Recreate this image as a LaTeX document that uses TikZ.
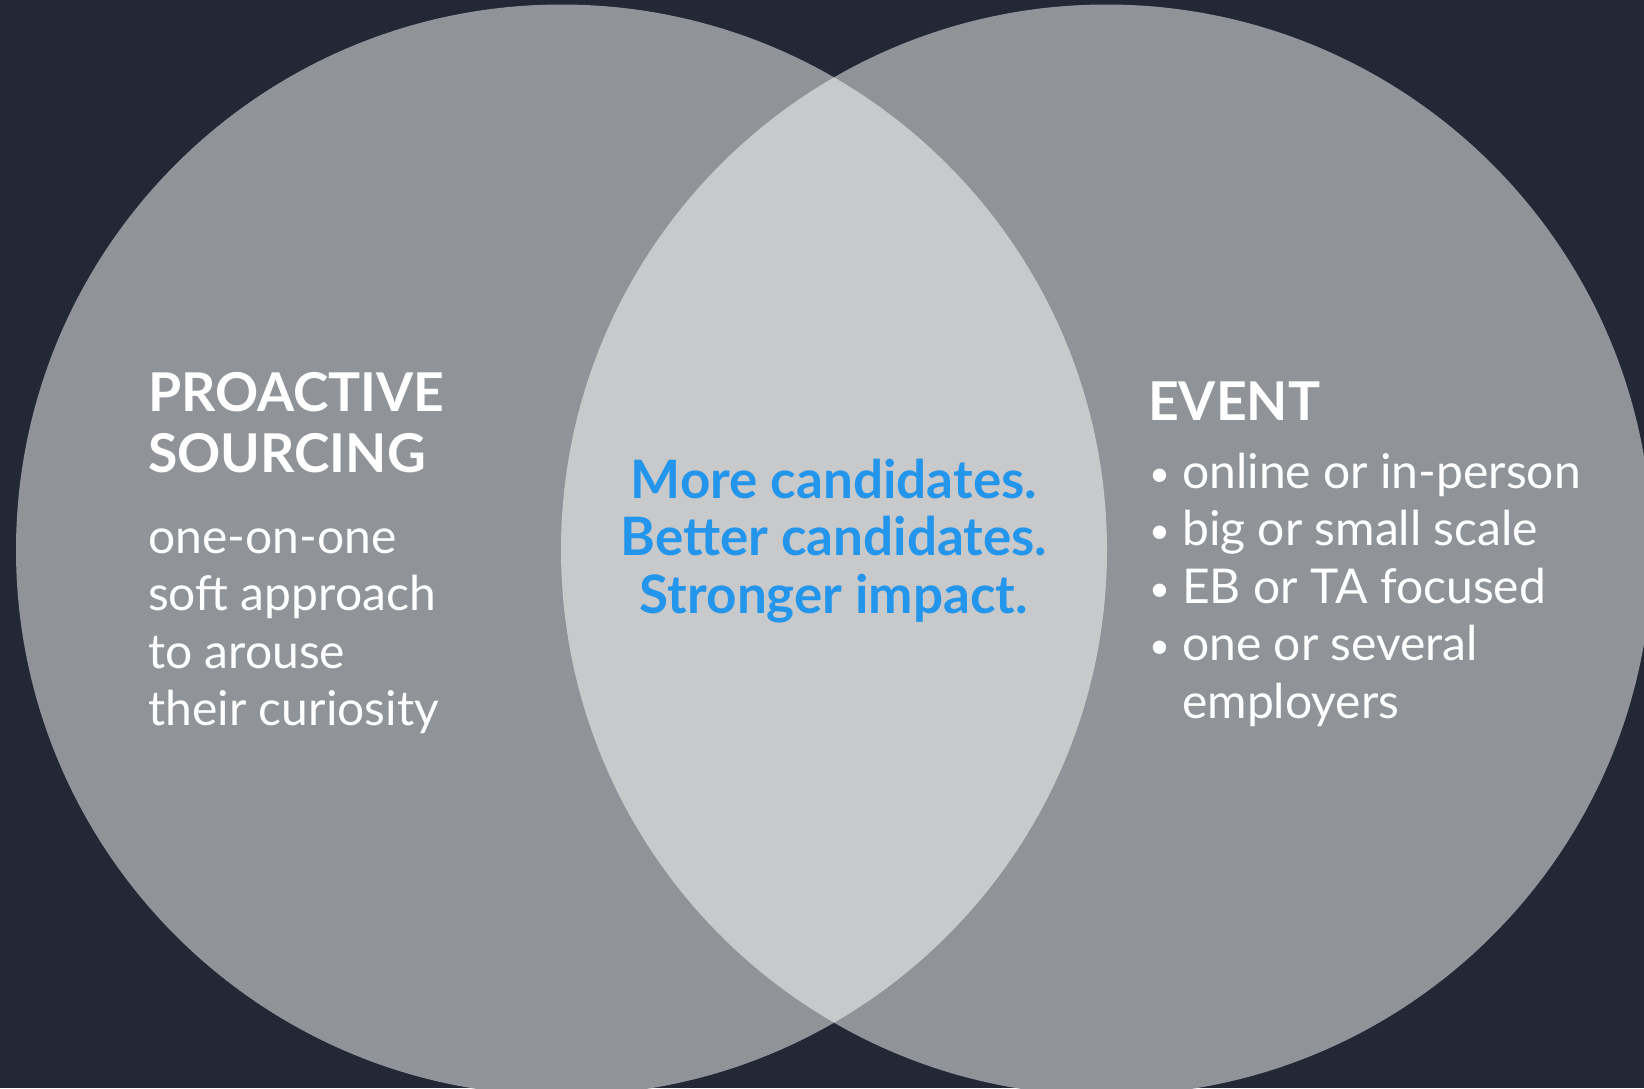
\documentclass[tikz,border=0pt]{standalone}
\usepackage{fontspec}
\setmainfont{Lato}
\newcommand{\dotitem}{\makebox[33pt][l]{\raisebox{2pt}{\fontsize{36}{36}\selectfont •}}}
\newcommand{\noitem}{\makebox[33pt][l]{}}
\begin{document}
\definecolor{bgnavy}{HTML}{222835}
\definecolor{ringgray}{HTML}{909398}
\definecolor{lensgray}{HTML}{C8C9CB}
\definecolor{accentblue}{HTML}{2396EC}
\begin{tikzpicture}[x=1pt,y=-1pt,
  heading/.style={anchor=base west,inner sep=0pt,text=white,font=\fontsize{53.5}{61}\selectfont\bfseries},
  bodytext/.style={anchor=base west,inner sep=0pt,text=white,font=\fontsize{48}{57.5}\selectfont},
  centertext/.style={anchor=base,inner sep=0pt,text=accentblue,font=\fontsize{53}{57.5}\selectfont\bfseries}]
  % canvas
  \fill[bgnavy] (0,0) rectangle (1644,1088);
  \useasboundingbox (0,0) rectangle (1644,1088);
  % the two sets
  \fill[ringgray] (561.5,550) circle[radius=545.5];
  \fill[ringgray] (1106.5,550) circle[radius=545.5];
  % overlap
  \begin{scope}
    \clip (561.5,550) circle[radius=545.5];
    \fill[lensgray] (1106.5,550) circle[radius=545.5];
  \end{scope}
  % left set
  \node[heading] (lefthead) at (148,411) {\begin{tabular}[t]{@{}l@{}}PROACTIVE\\SOURCING\end{tabular}};
  \node[bodytext] (leftbody) at (148,553) {\begin{tabular}[t]{@{}l@{}}one-on-one\\soft approach\\to arouse\\their curiosity\end{tabular}};
  % overlap text
  \node[centertext] (middle) at (834,498) {\begin{tabular}[t]{@{}c@{}}More candidates.\\Better candidates.\\Stronger impact.\end{tabular}};
  % right set
  \node[heading] (righthead) at (1148,420) {EVENT};
  \node[bodytext] (rightbody) at (1149,488) {\begin{tabular}[t]{@{}l@{}}\dotitem online or in-person\\\dotitem big or small scale\\\dotitem EB or TA focused\\\dotitem one or several\\\noitem employers\end{tabular}};
\end{tikzpicture}
\end{document}
